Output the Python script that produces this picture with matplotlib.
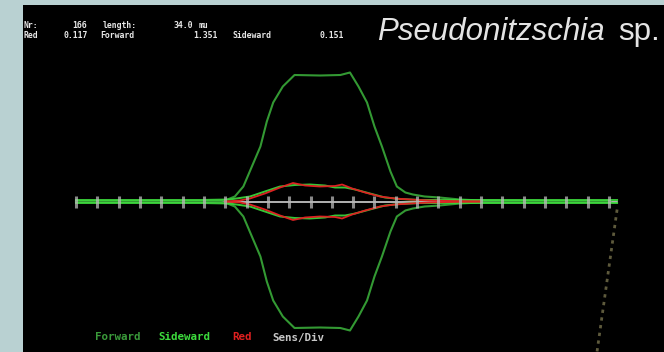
import matplotlib
matplotlib.use("Agg")
import matplotlib.pyplot as plt
import numpy as np

# Scan profile of a single particle: position along the particle in divisions,
# signal amplitudes mirrored above and below the baseline.
tick_positions = list(range(26))
axis_end = 25.38

forward_x = [0, 5.8, 6.75, 7.1, 7.45, 7.85, 8.25, 8.65, 8.95, 9.25, 9.7, 10.25,
             11.45, 12.4, 12.85, 13.25, 13.65, 14.0, 14.35, 14.75, 15.05, 15.45,
             15.8, 16.35, 17.05, 18.0, 18.95, 21.75, 25.05]
forward_y = [0, 0, 0.5, 2, 5, 15, 35, 55, 80, 99, 115, 126.5,
             126, 126.5, 129, 115, 99, 75, 55, 30, 15, 9,
             7, 5, 4, 2, 1, 0.5, 0]

sideward_x = [0, 5.8, 7.2, 8.16, 8.86, 9.57, 10.27, 10.97, 11.68, 12.15, 12.62,
              13.09, 13.79, 14.49, 15.2, 16.14, 25.38]
sideward_y = [1.5, 1.5, 2, 5, 10, 15, 16.5, 17, 16, 14, 14,
              12, 8, 4, 2.5, 1.5, 1.5]

red_x = [6.99, 7.69, 8.16, 8.86, 9.57, 10.18, 10.74, 11.44, 12.15, 12.48, 12.95,
         13.56, 14.26, 14.96, 15.67, 16.6, 17.54, 18.95]
red_y = [0, 1, 3, 8, 14, 18.5, 16, 15, 15.5, 17, 13,
         9, 5, 3, 2, 1, 0.5, 0]

# Trigger trace leaving the right end of the baseline
trigger_x = [25.38, 24.44]
trigger_y = [-8, -150]

header_line1 = [("Nr:", 24), ("166", 72), ("length:", 103), ("34.0", 173), ("mu", 199)]
header_line2 = [("Red", 24), ("0.117", 63), ("Forward", 100), ("1.351", 193),
                ("Sideward", 232), ("0.151", 320)]
legend_items = [("Forward", 95, "#3a9a3a"), ("Sideward", 158, "#3ddc3d"),
                ("Red", 232, "#e02020"), ("Sens/Div", 272, "#c8c8c8")]

W, H = 664, 352
fig = plt.figure(figsize=(W / 100, H / 100), dpi=100, facecolor="#b9d1d2")
ax = fig.add_axes([23 / W, 0, (W - 23) / W, (H - 5) / H])
ax.set_facecolor("black")
ax.set_xlim(-2.486, 27.58)
ax.set_ylim(-150.5, 196.5)
ax.set_xticks([])
ax.set_yticks([])
for sp in ax.spines.values():
    sp.set_visible(False)

fwd_color = "#339933"
sid_color = "#3ddc3d"
red_color = "#dd2222"

# baseline
ax.plot([0, axis_end], [0, 0], color="#d0d0d0", lw=1.2, zorder=1)

fx = np.array(forward_x)
fy = np.array(forward_y)
ax.plot(fx, fy, color=fwd_color, lw=1.5, zorder=3)
ax.plot(fx, -fy, color=fwd_color, lw=1.5, zorder=3)

sx = np.array(sideward_x)
sy = np.array(sideward_y)
ax.plot(sx, sy, color=sid_color, lw=1.4, zorder=4, alpha=0.9)
ax.plot(sx, -sy, color=sid_color, lw=1.4, zorder=4, alpha=0.9)

rx = np.array(red_x)
ry = np.array(red_y)
ax.plot(rx, ry, color=red_color, lw=1.3, zorder=5)
ax.plot(rx, -ry, color=red_color, lw=1.3, zorder=5)

# division ticks
for t in tick_positions:
    ax.plot([t, t], [-6, 6], color="#b8b8b8", lw=2.2, alpha=0.75,
            solid_capstyle="butt", zorder=6)

ax.plot(trigger_x, trigger_y, color="#5e5a3c", lw=2.0,
        linestyle=(0, (1.2, 1.6)), zorder=2)

mono = dict(family="DejaVu Sans Mono", fontweight="bold", fontsize=5.9,
            color="#e8e8e8", va="center", ha="left")
for txt, px in header_line1:
    fig.text(px / W, 1 - 25.0 / H, txt, **mono)
for txt, px in header_line2:
    fig.text(px / W, 1 - 35.0 / H, txt, **mono)

for txt, px, col in legend_items:
    fig.text(px / W, 1 - 337.5 / H, txt, family="DejaVu Sans Mono",
             fontweight="bold", fontsize=7.8, color=col, va="center", ha="left")

fig.text(377 / W, 1 - 40 / H, "Pseudonitzschia", family="Liberation Sans",
         style="italic", fontsize=22.5, color="#e4e4e4", va="baseline", ha="left")
fig.text(618 / W, 1 - 40 / H, "sp.", family="Liberation Sans",
         fontsize=22.5, color="#e4e4e4", va="baseline", ha="left")

fig.savefig("out.png", dpi=100, facecolor=fig.get_facecolor())
